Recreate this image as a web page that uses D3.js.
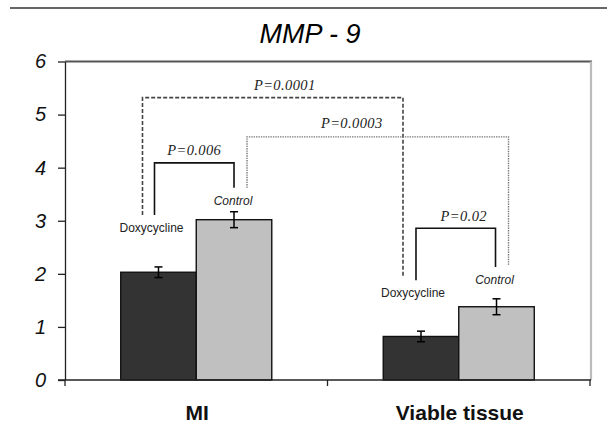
<!DOCTYPE html>
<html lang="en">
<head>
<meta charset="UTF-8">
<title>MMP - 9</title>
<script src="https://d3js.org/d3.v7.min.js"></script>
<style>
    body { margin: 0; background: #fff; }
    svg { display: block; font-family: "Liberation Sans", Arial, sans-serif; }
    .pval { font-family: "Liberation Serif", "Times New Roman", serif; font-style: italic; font-size: 14.5px; fill: #222; letter-spacing: 0.4px; }
</style>
</head>
<body>
<div id="chart"></div>
<script>
// data
const categories = ['MI', 'Viable tissue'];
const series = ['Doxycycline', 'Control'];
const means = [[2.03, 3.02], [0.82, 1.38]];
const errors = [[0.10, 0.15], [0.10, 0.15]];
const yTicks = [0, 1, 2, 3, 4, 5, 6];

// significance brackets: endpoints (category, series), height and leg ends in y units
const pLabels = ['P=0.006', 'P=0.0001', 'P=0.0003', 'P=0.02'];
const pFrom = [[0, 0], [0, 0], [0, 1], [1, 0]];
const pTo = [[0, 1], [1, 0], [1, 1], [1, 1]];
const pTop = [4.09, 5.32, 4.58, 2.86];
const pLegs = [[3.11, 3.62], [3.11, 1.93], [3.62, 2.17], [1.88, 2.13]];

const W = 607, H = 431;
const svg = d3.select('#chart').append('svg').attr('width', W).attr('height', H);

const y = d3.scaleLinear().domain([0, 6]).range([380, 61.5]);
const x0 = d3.scaleBand().domain(categories).range([65, 590]).padding(0);
const x1 = d3.scaleBand().domain(series).range([0, x0.bandwidth()]).paddingInner(0).paddingOuter(0.738);
const fill = d3.scaleOrdinal().domain(series).range(['#333333', '#c0c0c0']);

// rule across the top of the figure
svg.append('line').attr('x1', 10).attr('x2', W).attr('y1', 8).attr('y2', 8)
    .attr('stroke', '#333').attr('stroke-width', 1.5);

// title
svg.append('text').attr('x', 310).attr('y', 43).attr('text-anchor', 'middle')
    .style('font-size', '27px').style('font-style', 'italic').text('MMP - 9');

// plot frame (top and right)
svg.append('line').attr('x1', 65).attr('x2', 592).attr('y1', y(6)).attr('y2', y(6))
    .attr('stroke', '#555').attr('stroke-width', 2.2);
svg.append('line').attr('x1', 591).attr('x2', 591).attr('y1', y(6)).attr('y2', y(0))
    .attr('stroke', '#bbb').attr('stroke-width', 2.2);

// y axis
const yAxis = svg.append('g').attr('transform', 'translate(65,0)')
    .call(d3.axisLeft(y).tickValues(yTicks).tickFormat(d3.format('d')).tickSize(7).tickSizeOuter(0).tickPadding(12));
yAxis.select('.domain').attr('stroke', '#222').attr('stroke-width', 1.3);
yAxis.selectAll('.tick line').attr('stroke', '#222').attr('stroke-width', 1.3);
yAxis.selectAll('.tick text').attr('fill', '#111').style('font-size', '20px').style('font-style', 'italic')
    .style('font-family', '"Liberation Sans", Arial, sans-serif');

// bars
const groups = svg.selectAll('.cat').data(categories).enter().append('g')
    .attr('class', 'cat').attr('transform', d => 'translate(' + x0(d) + ',0)');

groups.selectAll('rect').data((c, i) => series.map((s, j) => ({s: s, v: means[i][j], e: errors[i][j]})))
    .enter().append('rect')
    .attr('x', d => x1(d.s)).attr('width', x1.bandwidth())
    .attr('y', d => y(d.v)).attr('height', d => y(0) - y(d.v))
    .attr('fill', d => fill(d.s)).attr('stroke', '#111').attr('stroke-width', 1.4);

// error bars
const eb = groups.selectAll('.err').data((c, i) => series.map((s, j) => ({s: s, v: means[i][j], e: errors[i][j]})))
    .enter().append('g').attr('class', 'err')
    .attr('transform', d => 'translate(' + (x1(d.s) + x1.bandwidth() / 2) + ',0)')
    .attr('stroke', '#000').attr('stroke-width', 1.5);
eb.append('line').attr('x1', 0).attr('x2', 0).attr('y1', d => y(d.v + d.e)).attr('y2', d => y(d.v - d.e));
eb.append('line').attr('x1', -4).attr('x2', 4).attr('y1', d => y(d.v + d.e)).attr('y2', d => y(d.v + d.e));
eb.append('line').attr('x1', -4).attr('x2', 4).attr('y1', d => y(d.v - d.e)).attr('y2', d => y(d.v - d.e));

// x axis: baseline and category boundary ticks
svg.append('line').attr('x1', 58).attr('x2', 591).attr('y1', y(0)).attr('y2', y(0))
    .attr('stroke', '#222').attr('stroke-width', 1.3);
const bounds = categories.map(c => x0(c)).concat([x0.range()[1]]);
svg.selectAll('.xtick').data(bounds).enter().append('line').attr('class', 'xtick')
    .attr('x1', d => d).attr('x2', d => d).attr('y1', y(0)).attr('y2', y(0) + 6)
    .attr('stroke', '#222').attr('stroke-width', 1.3);
svg.selectAll('.xlab').data(categories).enter().append('text').attr('class', 'xlab')
    .attr('x', d => x0(d) + x0.bandwidth() / 2 + 1).attr('y', 420)
    .attr('text-anchor', 'middle').style('font-size', '21px').style('font-weight', 'bold')
    .attr('fill', '#111').text(d => d);

// brackets
const barMid = (ci, si) => x0(categories[ci]) + x1(series[si]) + x1.bandwidth() / 2;
const bStyle = [
    {stroke: '#111', w: 1.6, dash: null, dx: [-4, 0], tx: 0, ty: -8},
    {stroke: '#444', w: 1.6, dash: '4,2', dx: [-16, -18], tx: 12, ty: -8},
    {stroke: '#777', w: 1.4, dash: '1.4,1', dx: [13, 12], tx: -26, ty: -9},
    {stroke: '#111', w: 1.6, dash: null, dx: [-5, -1], tx: 8, ty: -7}
];
const br = pLabels.map((p, i) => ({
    label: p,
    xa: barMid(pFrom[i][0], pFrom[i][1]) + bStyle[i].dx[0],
    xb: barMid(pTo[i][0], pTo[i][1]) + bStyle[i].dx[1],
    top: pTop[i], legs: pLegs[i], st: bStyle[i]
}));

svg.selectAll('.bracket').data(br).enter().append('path').attr('class', 'bracket')
    .attr('d', d => 'M' + d.xa + ',' + y(d.legs[0]) + 'V' + y(d.top) + 'H' + d.xb + 'V' + y(d.legs[1]))
    .attr('fill', 'none').attr('stroke', d => d.st.stroke).attr('stroke-width', d => d.st.w)
    .attr('stroke-dasharray', d => d.st.dash);

svg.selectAll('.pval').data(br).enter().append('text').attr('class', 'pval')
    .attr('x', d => (d.xa + d.xb) / 2 + d.st.tx).attr('y', d => y(d.top) + d.st.ty)
    .attr('text-anchor', 'middle').text(d => d.label);

// group labels under the solid bracket legs
const legLabels = [];
[0, 3].forEach(i => {
    legLabels.push({x: br[i].xa - 3, y: y(br[i].legs[0]) + 17, t: series[0], it: false});
    legLabels.push({x: br[i].xb - 1, y: y(br[i].legs[1]) + 17, t: series[1], it: true});
});
svg.selectAll('.leg').data(legLabels).enter().append('text').attr('class', 'leg')
    .attr('x', d => d.x).attr('y', d => d.y).attr('text-anchor', 'middle')
    .style('font-size', '12px').style('font-style', d => d.it ? 'italic' : 'normal')
    .attr('fill', '#222').text(d => d.t);
</script>
</body>
</html>
